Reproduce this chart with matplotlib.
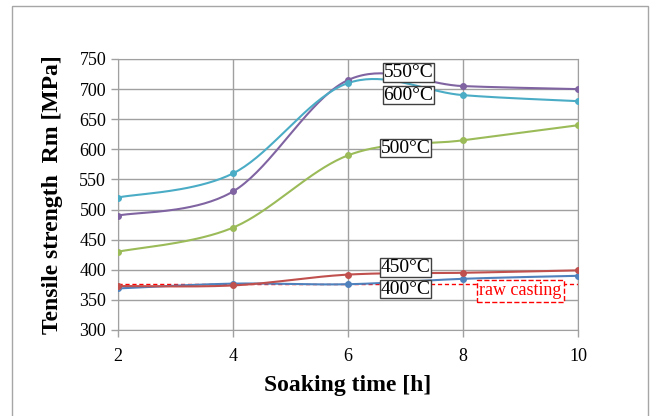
import numpy as np
import matplotlib
matplotlib.use('Agg')
import matplotlib.pyplot as plt
from matplotlib.patches import Rectangle

plt.rcParams['font.family'] = ['Liberation Serif', 'DejaVu Serif']

# data
soak_time = [2, 4, 6, 8, 10]
rm_550 = [490, 530, 715, 705, 700]
rm_600 = [520, 560, 710, 690, 680]
rm_500 = [430, 470, 590, 615, 640]
rm_450 = [373, 374, 392, 395, 399]
rm_400 = [369, 377, 376, 385, 390]
raw_casting = 377

series_names = ['400°C', '450°C', '500°C', '550°C', '600°C']
series_vals = [rm_400, rm_450, rm_500, rm_550, rm_600]
colors = ['#4F81BD', '#C0504D', '#9BBB59', '#8064A2', '#4BACC6']
label_pos = [(7.0, 368), (7.0, 404), (7.0, 602), (7.05, 728), (7.05, 690)]


# excel style smoothed line (cubic bezier through the points)
def smooth(x, y, n=40):
    x = np.asarray(x, float)
    y = np.asarray(y, float)
    px = np.concatenate([[x[0]], x, [x[-1]]])
    py = np.concatenate([[y[0]], y, [y[-1]]])
    xs, ys = [], []
    t = np.linspace(0, 1, n)
    for i in range(1, len(px) - 2):
        p0 = np.array([px[i], py[i]])
        p3 = np.array([px[i + 1], py[i + 1]])
        p1 = p0 + (np.array([px[i + 1], py[i + 1]]) - np.array([px[i - 1], py[i - 1]])) / 6
        p2 = p3 - (np.array([px[i + 2], py[i + 2]]) - np.array([px[i], py[i]])) / 6
        b = ((1 - t) ** 3)[:, None] * p0 + (3 * (1 - t) ** 2 * t)[:, None] * p1 \
            + (3 * (1 - t) * t ** 2)[:, None] * p2 + (t ** 3)[:, None] * p3
        xs.append(b[:, 0])
        ys.append(b[:, 1])
    return np.concatenate(xs), np.concatenate(ys)


fig = plt.figure(figsize=(6.5, 4.16), dpi=100)
fig.patches.append(Rectangle((12 / 650, -0.02), 636 / 650, 1.02 - 6 / 416,
                             transform=fig.transFigure, fill=False,
                             edgecolor='#A6A6A6', linewidth=1))
ax = fig.add_axes([118 / 650, 1 - 330 / 416, 460 / 650, 271 / 416])

ax.plot([2, 10], [raw_casting, raw_casting], color='#FF0000', linestyle='--',
        linewidth=1, dashes=(3, 2), zorder=2)

for name, vals, c in zip(series_names, series_vals, colors):
    sx, sy = smooth(soak_time, vals)
    ax.plot(sx, sy, color=c, linewidth=1.5, zorder=3)
    ax.plot(soak_time, vals, 'o', color=c, markersize=4, zorder=4)

for name, (lx, ly) in zip(series_names, label_pos):
    ax.text(lx, ly, name, fontsize=14, ha='center', va='center', zorder=5,
            bbox=dict(boxstyle='square,pad=0.04', facecolor='white',
                      edgecolor='#404040', linewidth=1))

ax.text(9.0, 365, 'raw casting', fontsize=13, color='#FF0000', ha='center',
        va='center', zorder=5,
        bbox=dict(boxstyle='square,pad=0.12', facecolor='white',
                  edgecolor='#FF0000', linewidth=1, linestyle='--'))

ax.set_xlim(2, 10)
ax.set_ylim(300, 750)
ax.set_xticks([2, 4, 6, 8, 10])
ax.set_yticks(np.arange(300, 751, 50))
ax.grid(True, color='#A0A0A0', linewidth=1)
ax.set_axisbelow(True)
for s in ax.spines.values():
    s.set_color('#A0A0A0')
ax.tick_params(axis='both', labelsize=13, color='#A0A0A0', length=5, width=1)
ax.tick_params(axis='x', pad=8)
ax.set_xlabel('Soaking time [h]', fontsize=17, fontweight='bold', labelpad=7)
ax.set_ylabel('Tensile strength  Rm [MPa]', fontsize=17, fontweight='bold', labelpad=12)

fig.savefig('out.png', dpi=100)
